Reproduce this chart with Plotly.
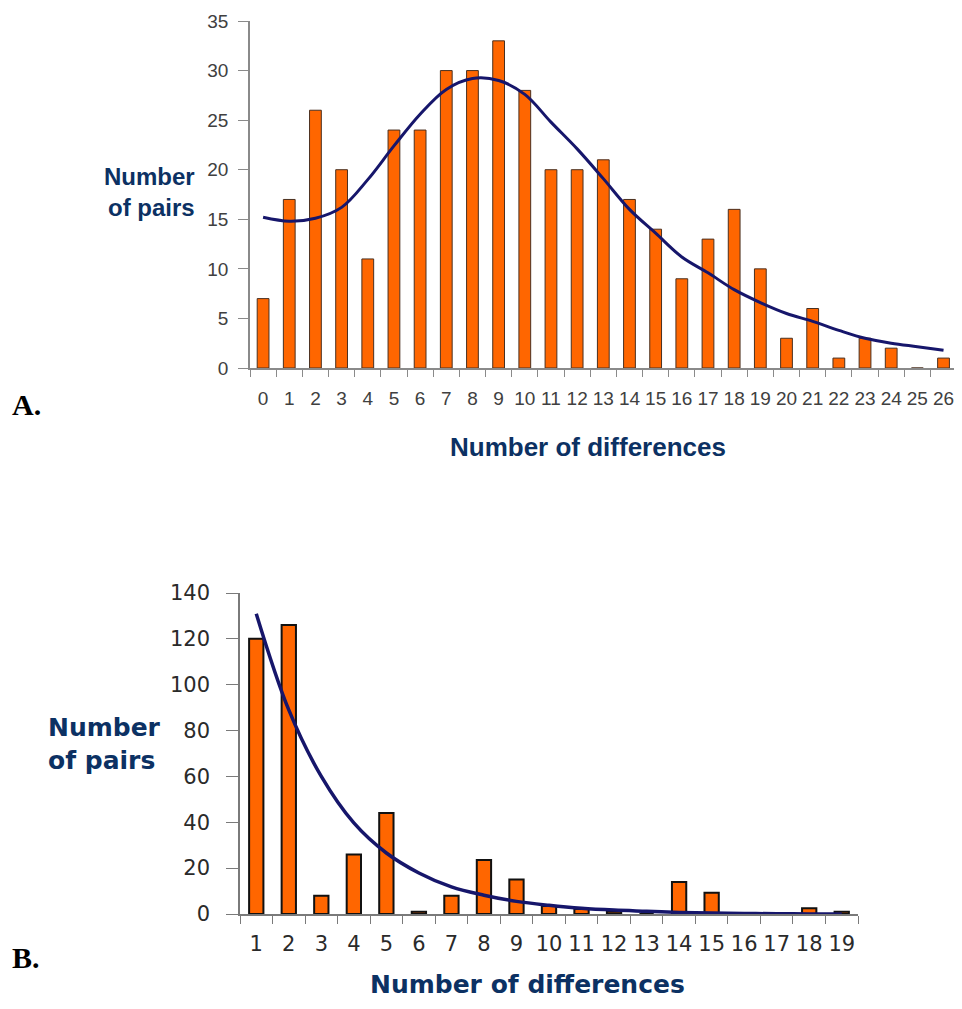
import plotly.graph_objects as go

# The page body has an 8px default margin, so the figure starts at screen (8, 8).
# Keep the figure inside the viewport so that no scrollbars appear.
OFF = 8
W, H = 962 - 2 * OFF, 1009 - 2 * OFF


def px(x):
    return (x - OFF) / W


def py(y):
    return 1 - (y - OFF) / H


# Panel A data
a_categories = [str(i) for i in range(27)]
a_counts = [7, 17, 26, 20, 11, 24, 24, 30, 30, 33, 28, 20, 20, 21, 17, 14, 9, 13, 16, 10, 3, 6, 1, 3, 2, 0, 1]
a_fit = [15.2, 14.8, 15.1, 16.2, 19.0, 22.4, 25.6, 28.1, 29.2, 29.0, 27.6, 24.8, 22.1, 19.1, 16.0, 13.6,
         11.2, 9.6, 7.9, 6.6, 5.5, 4.7, 3.8, 3.0, 2.5, 2.15, 1.8]
a_yticks = [0, 5, 10, 15, 20, 25, 30, 35]

# Panel B data
b_categories = [str(i) for i in range(1, 20)]
b_counts = [120, 126, 8, 26, 44, 1, 8, 23.5, 15, 3.5, 2.2, 1, 0, 14, 9.3, 0, 0, 2.5, 1]
b_fit = [131, 89, 60, 39.7, 26.6, 17.9, 11.8, 8.2, 5.5, 3.8, 2.5, 1.7, 1.2, 0.7, 0.4, 0.25, 0.1, 0.05, 0.0]
b_yticks = [0, 20, 40, 60, 80, 100, 120, 140]

ORANGE = "#FF6600"
NAVY = "#16166b"
LABEL = "#0c3163"

fig = go.Figure()

fig.add_trace(go.Bar(x=a_categories, y=a_counts, xaxis="x", yaxis="y",
                     marker=dict(color=ORANGE, line=dict(color="#4a3020", width=1)),
                     width=0.45, showlegend=False))
fig.add_trace(go.Scatter(x=a_categories, y=a_fit, xaxis="x", yaxis="y", mode="lines",
                         line=dict(color=NAVY, width=3, shape="spline", smoothing=1.0),
                         showlegend=False))

fig.add_trace(go.Bar(x=b_categories, y=b_counts, xaxis="x2", yaxis="y2",
                     marker=dict(color=ORANGE, line=dict(color="#111111", width=2)),
                     width=0.44, showlegend=False))
fig.add_trace(go.Scatter(x=b_categories, y=b_fit, xaxis="x2", yaxis="y2", mode="lines",
                         line=dict(color=NAVY, width=3.5, shape="spline", smoothing=1.0),
                         showlegend=False))

tick_a = dict(family="Liberation Sans Narrow, Arial Narrow, sans-serif", size=19, color="#404040")
tick_b = dict(family="DejaVu Sans, Verdana, sans-serif", size=21, color="#2a2a2a")

fig.update_layout(
    width=W, height=H,
    margin=dict(l=0, r=0, t=0, b=0, autoexpand=False),
    paper_bgcolor="white", plot_bgcolor="white",
    bargap=0.5,
    xaxis=dict(domain=[px(250), 1.0], anchor="y", type="category", range=[-0.5, 26.4],
               showline=True, linecolor="#8a8a8a", linewidth=1.5, automargin=False, tickangle=0,
               ticks="outside", ticklen=7, tickcolor="#8a8a8a", tickson="boundaries",
               showgrid=False, zeroline=False, tickfont=tick_a, ticklabelstandoff=12),
    yaxis=dict(domain=[py(368), py(21)], anchor="x", range=[0, 35],
               tickvals=a_yticks, showline=True, linecolor="#8a8a8a", linewidth=1.5, automargin=False,
               ticks="outside", ticklen=10, tickcolor="#8a8a8a",
               showgrid=False, zeroline=False, tickfont=tick_a, ticklabelstandoff=6),
    xaxis2=dict(domain=[px(240), px(858)], anchor="y2", type="category", range=[-0.5, 18.5],
                showline=True, linecolor="#7a7a7a", linewidth=1.5, automargin=False, tickangle=0,
                ticks="outside", ticklen=8, tickcolor="#7a7a7a", tickson="boundaries",
                showgrid=False, zeroline=False, tickfont=tick_b, ticklabelstandoff=10),
    yaxis2=dict(domain=[py(914), py(593)], anchor="x2", range=[0, 140],
                tickvals=b_yticks, showline=True, linecolor="#7a7a7a", linewidth=1.5, automargin=False,
                ticks="outside", ticklen=12, tickcolor="#7a7a7a",
                showgrid=False, zeroline=False, tickfont=tick_b, ticklabelstandoff=12),
)

lab_a = dict(family="Liberation Sans, Arial, sans-serif", size=24, color=LABEL)
lab_a2 = dict(family="Liberation Sans, Arial, sans-serif", size=26, color=LABEL)
lab_b = dict(family="DejaVu Sans, Verdana, sans-serif", size=25, color=LABEL)
lab_b2 = dict(family="DejaVu Sans, Verdana, sans-serif", size=25, color=LABEL)
serif = dict(family="Liberation Serif, Times New Roman, serif", size=30, color="black")

annots = [
    dict(x=px(197), y=py(192), text="<b>Number<br>of pairs</b>", xanchor="right", yanchor="middle",
         align="right", font=lab_a),
    dict(x=px(588), y=py(447), text="<b>Number of differences</b>", xanchor="center", yanchor="middle",
         font=lab_a2),
    dict(x=px(10), y=py(404), text="<b>A.</b>", xanchor="left", yanchor="middle", font=serif),
    dict(x=px(46), y=py(744), text="<b>Number<br>of pairs</b>", xanchor="left", yanchor="middle",
         align="left", font=lab_b),
    dict(x=px(527), y=py(1000), text="<b>Number of differences</b>", xanchor="center", yanchor="bottom",
         font=lab_b2, borderpad=0),
    dict(x=px(10), y=py(957), text="<b>B.</b>", xanchor="left", yanchor="middle", font=serif),
]
for a in annots:
    a.update(xref="paper", yref="paper", showarrow=False)
fig.update_layout(annotations=annots)

fig.write_html("out.html")
